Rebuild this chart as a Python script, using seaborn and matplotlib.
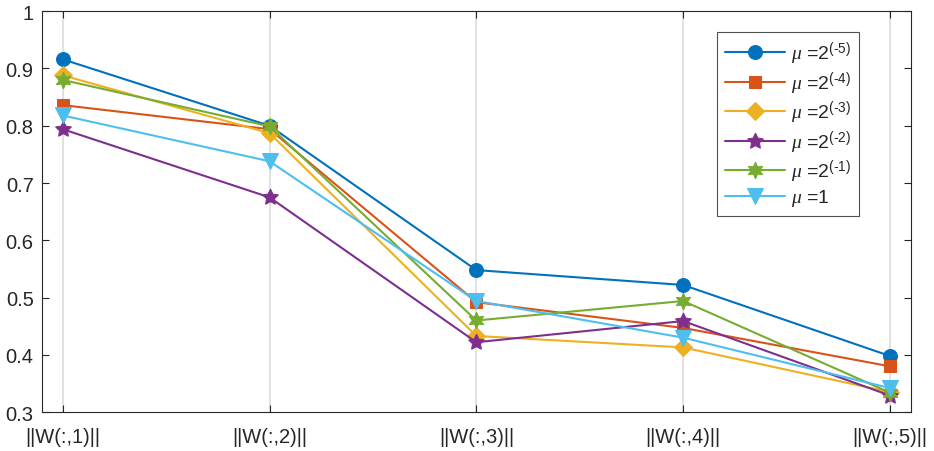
import matplotlib
matplotlib.use("Agg")
import matplotlib.pyplot as plt
import seaborn as sns
import pandas as pd

sns.set_style("white")
plt.rcParams["font.family"] = ["Liberation Sans", "DejaVu Sans"]
plt.rcParams["mathtext.fontset"] = "custom"
plt.rcParams["mathtext.rm"] = "Liberation Sans"
plt.rcParams["mathtext.it"] = "Liberation Serif:italic"

columns = ["||W(:,1)||", "||W(:,2)||", "||W(:,3)||", "||W(:,4)||", "||W(:,5)||"]
positions = [1, 2, 3, 4, 5]

mu_labels = ["$\\mu$ =2$^{\\mathrm{(\u20105)}}$", "$\\mu$ =2$^{\\mathrm{(\u20104)}}$",
             "$\\mu$ =2$^{\\mathrm{(\u20103)}}$", "$\\mu$ =2$^{\\mathrm{(\u20102)}}$",
             "$\\mu$ =2$^{\\mathrm{(\u20101)}}$", "$\\mu$ =1"]

mu_m5 = [0.916, 0.800, 0.548, 0.522, 0.398]
mu_m4 = [0.836, 0.794, 0.492, 0.447, 0.380]
mu_m3 = [0.888, 0.787, 0.433, 0.413, 0.335]
mu_m2 = [0.794, 0.675, 0.422, 0.459, 0.329]
mu_m1 = [0.880, 0.799, 0.460, 0.494, 0.334]
mu_1 = [0.818, 0.738, 0.494, 0.430, 0.342]

series = [mu_m5, mu_m4, mu_m3, mu_m2, mu_m1, mu_1]
colors = ["#0072BD", "#D95319", "#EDB120", "#7E2F8E", "#77AC30", "#4DBEEE"]
markers = ["o", "s", "D", (5, 1, 0), (6, 1, 0), "v"]
msizes = [10, 8.5, 9, 12, 12, 11.5]

rows = []
for lab, vals in zip(mu_labels, series):
    for p, v in zip(positions, vals):
        rows.append({"mu": lab, "pos": p, "value": v})
df = pd.DataFrame(rows)

fig = plt.figure(figsize=(9.34, 4.52), dpi=100)
ax = fig.add_axes([0.045, 0.086, 0.93, 0.887])

for lab, col, mk, ms in zip(mu_labels, colors, markers, msizes):
    sub = df[df["mu"] == lab]
    sns.lineplot(data=sub, x="pos", y="value", ax=ax, color=col, marker=mk,
                 markersize=ms, markeredgecolor=col, linewidth=1.5, label=lab,
                 estimator=None, sort=False)

ax.set_xlim(0.9, 5.1)
ax.set_ylim(0.3, 1.0)
ax.set_xticks(positions)
ax.set_xticklabels(columns)
ax.set_yticks([0.3, 0.4, 0.5, 0.6, 0.7, 0.8, 0.9, 1.0])
ax.set_yticklabels(["0.3", "0.4", "0.5", "0.6", "0.7", "0.8", "0.9", "1"])
ax.set_xlabel("")
ax.set_ylabel("")
ax.xaxis.grid(True, color="#dcdcdc", linewidth=1.2)
ax.yaxis.grid(False)
ax.set_axisbelow(True)
ax.tick_params(direction="in", length=5, width=0.8, colors="#262626",
               labelsize=14.5, top=True, right=True, left=True, bottom=True,
               labelcolor="#262626")
ax.tick_params(axis="x", pad=11)
ax.tick_params(axis="y", pad=6)
for s in ax.spines.values():
    s.set_color("#262626")
    s.set_linewidth(0.8)

leg = ax.legend(loc="upper right", bbox_to_anchor=(0.94, 0.948), fontsize=14,
                frameon=True, fancybox=False, edgecolor="#262626",
                handlelength=3.1, labelspacing=0.12, borderpad=0.4,
                handletextpad=0.3, borderaxespad=0)
leg.get_frame().set_linewidth(0.8)

fig.savefig("out.png", dpi=100)
